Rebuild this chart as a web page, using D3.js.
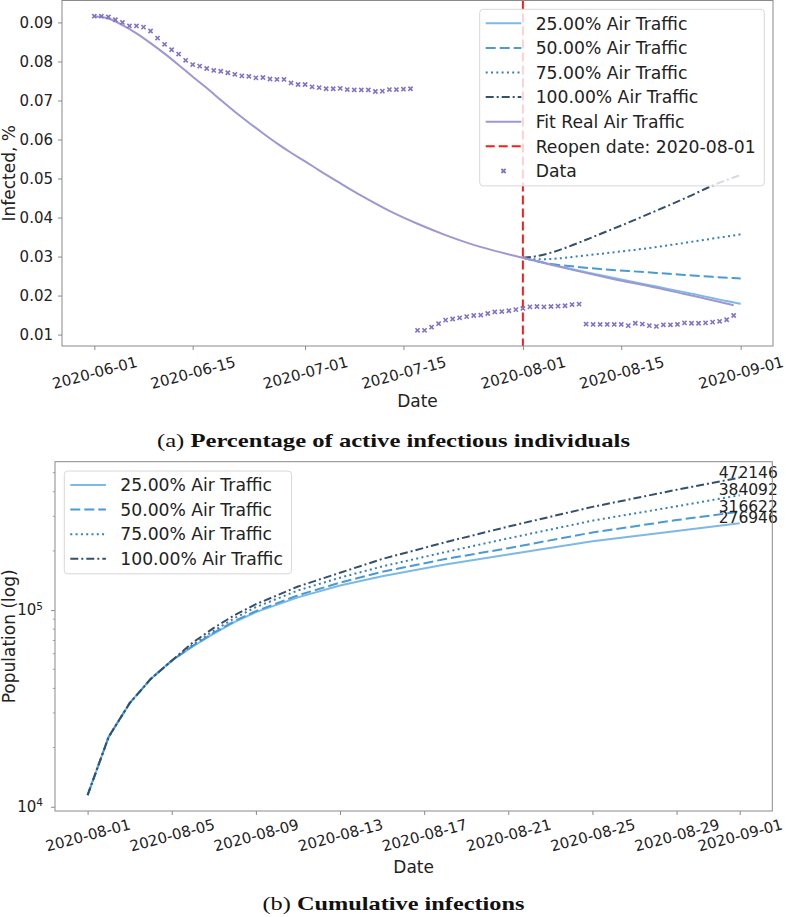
<!DOCTYPE html>
<html><head><meta charset="utf-8">
<script src="https://cdn.jsdelivr.net/npm/d3@7"></script>
<style>
body{margin:0;background:#fff;}
svg{display:block;font-family:"DejaVu Sans",sans-serif;}
</style></head><body>
<svg id="chart" width="786" height="917"></svg>
<script>
// ---------- data ----------
const seriesNames = ["25.00% Air Traffic","50.00% Air Traffic","75.00% Air Traffic","100.00% Air Traffic"];
const fitName = "Fit Real Air Traffic";
const reopenName = "Reopen date: 2020-08-01";
const dataName = "Data";
const reopenDate = "2020-08-01";

const activeData1Start = "2020-06-01";
const activeData1 = [0.0916,0.0916,0.0914,0.0907,0.0900,0.0891,0.0891,0.0888,0.0878,0.0860,0.0844,0.0830,0.0819,0.0803,0.0792,0.0788,0.0782,0.0777,0.0775,0.0771,0.0767,0.0763,0.0762,0.0758,0.0759,0.0755,0.0754,0.0754,0.0745,0.0741,0.0741,0.0735,0.0733,0.0730,0.0730,0.0731,0.0728,0.0727,0.0727,0.0727,0.0723,0.0724,0.0728,0.0728,0.0729,0.0730];
const activeData2Start = "2020-07-17";
const activeData2 = [0.0111,0.0111,0.0119,0.0128,0.0137,0.0140,0.0143,0.0146,0.0149,0.0150,0.0154,0.0158,0.0159,0.0161,0.0164,0.0167,0.0171,0.0172,0.0171,0.0172,0.0173,0.0174,0.0177,0.0178];
const activeData3Start = "2020-08-10";
const activeData3 = [0.0127,0.0126,0.0126,0.0126,0.0126,0.0126,0.0123,0.0129,0.0127,0.0123,0.0121,0.0125,0.0125,0.0126,0.0130,0.0129,0.0129,0.0130,0.0132,0.0134,0.0138,0.0149];

const fitDates = ["2020-06-01","2020-06-03","2020-06-05","2020-06-07","2020-06-09","2020-06-11","2020-06-13","2020-06-15","2020-06-17","2020-06-19","2020-06-21","2020-06-23","2020-06-25","2020-06-27","2020-06-29","2020-07-01","2020-07-03","2020-07-06","2020-07-09","2020-07-13","2020-07-17","2020-07-21","2020-07-25","2020-07-29","2020-08-01","2020-08-05","2020-08-09","2020-08-14","2020-08-19","2020-08-24","2020-08-28","2020-08-31"];
const fitValues = [0.0915,0.0910,0.0893,0.0872,0.0847,0.0820,0.0791,0.0761,0.0732,0.0701,0.0671,0.0643,0.0616,0.0590,0.0566,0.0544,0.0521,0.0488,0.0456,0.0417,0.0384,0.0355,0.0330,0.0310,0.0297,0.0279,0.0262,0.0242,0.0224,0.0204,0.0188,0.0175];

const top25Dates = ["2020-08-01","2020-08-05","2020-08-10","2020-08-15","2020-08-20","2020-08-25","2020-08-30","2020-09-01"];
const top25Values = [0.0297,0.0280,0.0260,0.0241,0.0223,0.0205,0.0186,0.0179];
const top50Dates = ["2020-08-01","2020-08-03","2020-08-05","2020-08-08","2020-08-12","2020-08-16","2020-08-20","2020-08-24","2020-08-28","2020-09-01"];
const top50Values = [0.0297,0.0288,0.0281,0.0275,0.0268,0.0263,0.0258,0.0253,0.0248,0.0244];
const top75Dates = ["2020-08-01","2020-08-03","2020-08-06","2020-08-09","2020-08-14","2020-08-19","2020-08-24","2020-08-28","2020-09-01"];
const top75Values = [0.0297,0.0293,0.0295,0.0301,0.0311,0.0322,0.0335,0.0346,0.0357];
const top100Dates = ["2020-08-01","2020-08-03","2020-08-05","2020-08-07","2020-08-10","2020-08-13","2020-08-16","2020-08-19","2020-08-22","2020-08-25","2020-08-28","2020-08-30","2020-09-01"];
const top100Values = [0.0297,0.0301,0.0310,0.0322,0.0343,0.0365,0.0387,0.0410,0.0433,0.0457,0.0482,0.0496,0.0509];

const topYTicks = [0.01,0.02,0.03,0.04,0.05,0.06,0.07,0.08,0.09];
const topXTicks = ["2020-06-01","2020-06-15","2020-07-01","2020-07-15","2020-08-01","2020-08-15","2020-09-01"];

const cumDates = ["2020-08-01","2020-08-02","2020-08-03","2020-08-04","2020-08-05","2020-08-06","2020-08-07","2020-08-08","2020-08-09","2020-08-11","2020-08-13","2020-08-15","2020-08-18","2020-08-21","2020-08-25","2020-08-29","2020-09-01"];
const cum25 = [11460,22650,33650,44670,55340,65310,75860,87100,97720,116150,133350,148590,170610,191870,223870,252350,276946];
const cum50 = [11460,22650,33650,44670,55340,65770,76740,88100,98860,118850,138040,156680,181970,206540,248310,287080,316622];
const cum75 = [11460,22650,33650,44670,55340,66830,78520,91200,103510,125890,146220,166730,197240,231740,285100,337290,384092];
const cum100 = [11460,22650,33650,44670,55340,68390,81280,94410,107150,131830,154880,181970,221310,266070,334970,409260,472146];
const bottomXTicks = ["2020-08-01","2020-08-05","2020-08-09","2020-08-13","2020-08-17","2020-08-21","2020-08-25","2020-08-29","2020-09-01"];
const bottomYTicks = [1e4,1e5];

// ---------- styles ----------
const seriesColors = ["#7db9e5","#4a9ad6","#3a7eb8","#35506b"];
const seriesDash = [null,"10,4","2,3.3","8,3,2,3"];
const fitColor = "#9d98d3";
const dataColor = "#8074c4";
const reopenColor = "#ff1a1a";
const frameColor = "#8a8a8a";
const textColor = "#222";
const tickFont = 15, labelFont = 17, legendFont = 17.2;

const parse = d3.utcParse("%Y-%m-%d");
const fmt = d3.utcFormat("%Y-%m-%d");
const svg = d3.select("#chart");

function pad(ext, f){ const r = ext[1]-ext[0]; return [ext[0]-r*f, ext[1]+r*f]; }
function padTime(ext, f){ const r = ext[1]-ext[0]; return [new Date(+ext[0]-r*f), new Date(+ext[1]+r*f)]; }

function seg(start, vals){ const s = parse(start); return vals.map((v,i)=>({date:d3.utcDay.offset(s,i), value:v})); }
function pts(dates, vals){ return dates.map((d,i)=>({date:parse(d), value:vals[i]})); }

// ================= TOP CHART =================
const T = {left:62, right:773, top:0.5, bottom:346};
const dataPts = [...seg(activeData1Start,activeData1), ...seg(activeData2Start,activeData2), ...seg(activeData3Start,activeData3)];
const fitPts = pts(fitDates, fitValues);
const topSeries = [pts(top25Dates,top25Values), pts(top50Dates,top50Values), pts(top75Dates,top75Values), pts(top100Dates,top100Values)];
const allTop = [...dataPts, ...fitPts, ...topSeries.flat()];

const xT = d3.scaleUtc().domain(padTime(d3.extent(allTop, d=>d.date), 0.05)).range([T.left, T.right]);
const yT = d3.scaleLinear().domain(pad(d3.extent(allTop, d=>d.value), 0.05)).range([T.bottom, T.top]);

const gT = svg.append("g");
svg.append("clipPath").attr("id","clipT").append("rect")
  .attr("x",T.left).attr("y",T.top).attr("width",T.right-T.left).attr("height",T.bottom-T.top);

function styleAxis(g){
  g.select(".domain").remove();
  g.selectAll(".tick line").attr("stroke",frameColor).attr("stroke-width",1);
  g.selectAll("text").attr("fill",textColor).attr("font-size",tickFont).attr("font-family","DejaVu Sans");
}

gT.append("g").attr("transform",`translate(${T.left},0)`)
  .call(d3.axisLeft(yT).tickValues(topYTicks).tickFormat(d3.format(".2f")).tickSize(4).tickPadding(5))
  .call(styleAxis);
gT.append("g").attr("transform",`translate(0,${T.bottom})`)
  .call(d3.axisBottom(xT).tickValues(topXTicks.map(parse)).tickFormat(fmt).tickSize(4))
  .call(styleAxis)
  .call(g=>g.selectAll("text").attr("y",0).attr("dy",null).attr("dominant-baseline","central")
     .attr("text-anchor","middle").attr("transform","translate(0,27) rotate(-15)"));

const plotT = gT.append("g").attr("clip-path","url(#clipT)");
const lineT = d3.line().x(d=>xT(d.date)).y(d=>yT(d.value)).curve(d3.curveMonotoneX);

topSeries.forEach((s,i)=>{
  plotT.append("path").datum(s).attr("d",lineT).attr("fill","none")
    .attr("stroke",seriesColors[i]).attr("stroke-width",2)
    .attr("stroke-dasharray",seriesDash[i]);
});
plotT.append("path").datum(fitPts).attr("d",lineT).attr("fill","none")
  .attr("stroke",fitColor).attr("stroke-width",2);
plotT.append("line").attr("x1",xT(parse(reopenDate))).attr("x2",xT(parse(reopenDate)))
  .attr("y1",T.top).attr("y2",T.bottom).attr("stroke",reopenColor).attr("stroke-width",2)
  .attr("stroke-dasharray","9,4");
const xMark = "M-2.1,-2.1L2.1,2.1M-2.1,2.1L2.1,-2.1";
plotT.selectAll("path.dp").data(dataPts).join("path").attr("class","dp")
  .attr("transform",d=>`translate(${xT(d.date)},${yT(d.value)})`)
  .attr("d",xMark).attr("stroke",dataColor).attr("stroke-width",1.6).attr("fill","none");

gT.append("rect").attr("x",T.left).attr("y",T.top).attr("width",T.right-T.left).attr("height",T.bottom-T.top)
  .attr("fill","none").attr("stroke",frameColor).attr("stroke-width",1);

gT.append("text").attr("x",(T.left+T.right)/2).attr("y",407).attr("text-anchor","middle")
  .attr("font-size",labelFont).attr("fill",textColor).text("Date");
gT.append("text").attr("transform",`translate(14.5,${(T.top+T.bottom)/2}) rotate(-90)`).attr("text-anchor","middle")
  .attr("font-size",labelFont).attr("fill",textColor).text("Infected, %");

function legend(g, items, anchor){
  const rowH = 24.6, padL = 6, handleW = 35.6, gap = 14.4, padR = 8.6, padT = 14, padB = 15;
  const lg = g.append("g");
  const box = lg.append("rect");
  let maxW = 0;
  const texts = items.map((it,i)=>{
    const t = lg.append("text").attr("font-size",legendFont).attr("fill",textColor).text(it.label);
    maxW = Math.max(maxW, t.node().getComputedTextLength());
    return t;
  });
  const w = padL + handleW + gap + maxW + padR;
  const h = padT + rowH*(items.length-1) + padB;
  const x0 = anchor.right !== undefined ? anchor.right - w : anchor.left;
  const y0 = anchor.top;
  box.attr("x",x0).attr("y",y0).attr("width",w).attr("height",h).attr("rx",3.5)
    .attr("fill","#fff").attr("fill-opacity",0.8).attr("stroke","#d8d8d8").attr("stroke-width",1);
  items.forEach((it,i)=>{
    const cy = y0 + padT + rowH*i;
    texts[i].attr("x",x0+padL+handleW+gap).attr("y",cy+6.2);
    if(it.type==="line"){
      lg.append("line").attr("x1",x0+padL).attr("x2",x0+padL+handleW).attr("y1",cy).attr("y2",cy)
        .attr("stroke",it.color).attr("stroke-width",2).attr("stroke-dasharray",it.dash);
    } else {
      lg.append("path").attr("transform",`translate(${x0+padL+handleW/2},${cy})`).attr("d",xMark)
        .attr("stroke",it.color).attr("stroke-width",1.8).attr("fill","none");
    }
  });
}

legend(gT, [
  ...seriesNames.map((n,i)=>({type:"line",label:n,color:seriesColors[i],dash:seriesDash[i]})),
  {type:"line",label:fitName,color:fitColor,dash:null},
  {type:"line",label:reopenName,color:reopenColor,dash:"9,4"},
  {type:"marker",label:dataName,color:dataColor}
], {right:T.right-8.7, top:T.top+8.8});

// ================= BOTTOM CHART =================
const B = {left:55, right:772.3, top:461.7, bottom:811};
const cumSeries = [cum25,cum50,cum75,cum100].map(v=>pts(cumDates,v));
const allB = cumSeries.flat();
const xB = d3.scaleUtc().domain(padTime(d3.extent(allB,d=>d.date),0.05)).range([B.left,B.right]);
const lext = d3.extent(allB,d=>Math.log10(d.value));
const lpad = pad(lext,0.05);
const yB = d3.scaleLog().domain([10**lpad[0], 10**lpad[1]]).range([B.bottom,B.top]);

const gB = svg.append("g");
svg.append("clipPath").attr("id","clipB").append("rect")
  .attr("x",B.left).attr("y",B.top).attr("width",B.right-B.left).attr("height",B.bottom-B.top);

gB.append("g").attr("transform",`translate(${B.left},0)`)
  .call(d3.axisLeft(yB).tickValues(bottomYTicks).tickFormat(()=>"").tickSize(4).tickPadding(8))
  .call(styleAxis)
  .call(g=>g.selectAll(".tick text").each(function(d){
    const t = d3.select(this);
    t.text("10");
    t.append("tspan").attr("dy","-0.55em").attr("font-size",tickFont*0.7).text(Math.round(Math.log10(d)));
  }));
const minor = [];
const [dLo, dHi] = yB.domain();
for(let e=Math.floor(Math.log10(dLo)); e<=Math.ceil(Math.log10(dHi)); e++){
  for(let m=2;m<=9;m++){ const v=m*10**e; if(v>=dLo && v<=dHi) minor.push(v); }
}
gB.append("g").selectAll("line").data(minor).join("line")
  .attr("x1",B.left-2.2).attr("x2",B.left).attr("y1",d=>yB(d)).attr("y2",d=>yB(d))
  .attr("stroke",frameColor).attr("stroke-width",0.8);

gB.append("g").attr("transform",`translate(0,${B.bottom})`)
  .call(d3.axisBottom(xB).tickValues(bottomXTicks.map(parse)).tickFormat(fmt).tickSize(4))
  .call(styleAxis)
  .call(g=>g.selectAll("text").attr("y",0).attr("dy",null).attr("dominant-baseline","central")
     .attr("text-anchor","middle").attr("transform","translate(0,24.5) rotate(-15)"));

const plotB = gB.append("g").attr("clip-path","url(#clipB)");
const lineB = d3.line().x(d=>xB(d.date)).y(d=>yB(d.value)).curve(d3.curveLinear);
cumSeries.forEach((s,i)=>{
  plotB.append("path").datum(s).attr("d",lineB).attr("fill","none")
    .attr("stroke",seriesColors[i]).attr("stroke-width",2).attr("stroke-dasharray",seriesDash[i]);
});
cumSeries.forEach((s,i)=>{
  const last = s[s.length-1];
  gB.append("text").attr("x",xB(d3.utcDay.offset(last.date,-1))).attr("y",yB(last.value))
    .attr("font-size",15.5).attr("fill",textColor).text(last.value);
});

gB.append("rect").attr("x",B.left).attr("y",B.top).attr("width",B.right-B.left).attr("height",B.bottom-B.top)
  .attr("fill","none").attr("stroke",frameColor).attr("stroke-width",1);

gB.append("text").attr("x",(B.left+B.right)/2).attr("y",872.5).attr("text-anchor","middle")
  .attr("font-size",labelFont).attr("fill",textColor).text("Date");
gB.append("text").attr("transform",`translate(15,${(B.top+B.bottom)/2}) rotate(-90)`).attr("text-anchor","middle")
  .attr("font-size",labelFont).attr("fill",textColor).text("Population (log)");

legend(gB, seriesNames.map((n,i)=>({type:"line",label:n,color:seriesColors[i],dash:seriesDash[i]})),
  {left:B.left+9.3, top:B.top+9.3});

// ================= CAPTIONS =================
function caption(y, tag, bold, width){
  const t = svg.append("text").attr("x",393.5).attr("y",y).attr("text-anchor","middle")
    .attr("font-family","'Liberation Serif', serif").attr("font-size",19).attr("fill","#111");
  t.append("tspan").text(tag+" ");
  t.append("tspan").attr("font-weight","bold").text(bold);
  t.attr("textLength",width).attr("lengthAdjust","spacingAndGlyphs");
}
caption(447, "(a)", "Percentage of active infectious individuals", 473);
caption(910, "(b)", "Cumulative infections", 262);
</script>
</body></html>
